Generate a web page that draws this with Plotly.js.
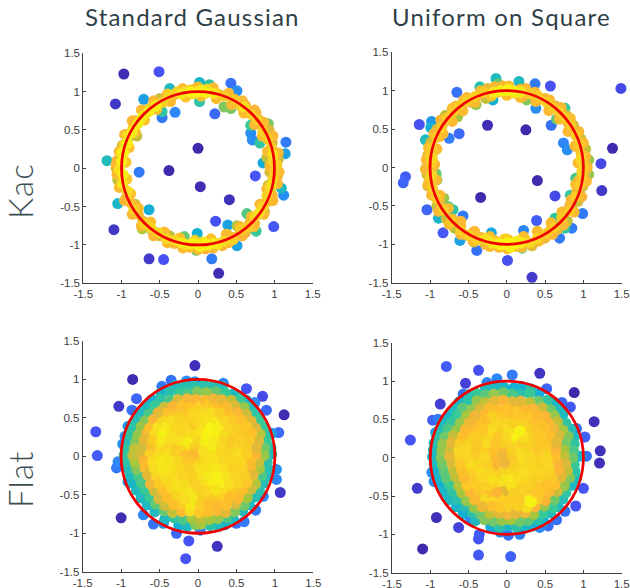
<!DOCTYPE html>
<html><head><meta charset="utf-8">
<script src="https://cdn.plot.ly/plotly-3.0.1.min.js"></script>
<style>html,body{margin:0;padding:0;background:#fff}.annotation-text{letter-spacing:1.2px}</style>
</head><body><div id="chart" style="width:630px;height:588px"></div>
<script>
const columnTitles=["Standard Gaussian","Uniform on Square"];
const rowTitles=["Kac","Flat"];
const tickValues=[-1.5,-1,-0.5,0,0.5,1,1.5];
const tickLabels=["-1.5","-1","-0.5","0","0.5","1","1.5"];

// each point: [x, y, density]
const kacGaussOutliers=[[-.97,1.23,.02],[-.51,1.26,.12],[-1.08,.84,.05],[.02,1.12,.4],[.15,1.09,.47],[.43,1.11,.2],[.51,1.01,.27],[-.37,1.04,.42],[-.71,.9,.32],[-.47,.74,.48],[-.47,.66,.22],[-.3,.73,.25],[.02,.87,.47],[.22,.71,.18],[.34,.8,.58],[.43,.78,.57],[.69,.56,.5],[.92,.58,.57],[.69,.46,.27],[.71,.37,.27],[.81,.33,.48],[1.15,.34,.22],[1.14,.19,.33],[.85,.07,.36],[-1.19,.1,.43],[-.77,-.05,.22],[0,.26,.01],[-.38,-.03,.01],[.03,-.24,.02],[.41,-.41,.03],[.75,-.1,.13],[1.09,-.26,.42],[1.12,-.35,.27],[-1.05,-.46,.4],[-.64,-.54,.37],[.64,-.59,.53],[.23,-.69,.12],[.39,-.74,.33],[.51,-.75,.62],[.76,-.82,.5],[.99,-.76,.14],[-1.1,-.8,.05],[-.01,-.85,.38],[-.18,-.89,.55],[.51,-1.01,.33],[-.02,-1.07,.55],[-.64,-1.18,.06],[-.45,-1.19,.12],[.18,-1.18,.22],[.27,-1.37,.02]];
const kacGaussRing=[[1.03,.02,.72],[1.05,.12,.68],[.98,.2,.78],[.97,.33,.7],[.92,.4,.66],[.93,.5,.7],[.85,.53,.72],[.8,.63,.78],[.76,.72,.75],[.66,.74,.72],[.62,.82,.76],[.55,.86,.66],[.46,.88,.78],[.38,.95,.76],[.28,.96,.78],[.19,1.03,.75],[.1,.98,.8],[-.02,1.05,.78],[-.1,1.02,.82],[-.22,.97,.74],[-.31,.96,.78],[-.41,.9,.72],[-.5,.91,.68],[-.58,.8,.76],[-.67,.76,.72],[-.72,.66,.78],[-.82,.62,.7],[-.8,.42,.66],[-.88,.46,.72],[-.92,.38,.68],[-.99,.3,.7],[-1.01,.18,.78],[-1.06,.1,.76],[-1.07,0,.7],[-1,-.12,.78],[-1.05,-.15,.66],[-.98,-.25,.76],[-.93,-.37,.74],[-.88,-.45,.78],[-.82,-.47,.7],[-.78,-.6,.76],[-.72,-.69,.72],[-.73,-.79,.64],[-.64,-.72,.78],[-.6,-.81,.66],[-.5,-.88,.7],[-.42,-.9,.74],[-.37,-.88,.66],[-.31,-.98,.76],[-.2,-.97,.78],[-.1,-1.03,.78],[.02,-1,.78],[.1,-1.05,.76],[.22,-.97,.8],[.32,-1.01,.76],[.38,-.86,.66],[.44,-.9,.78],[.54,-.87,.75],[.62,-.84,.72],[.68,-.71,.78],[.74,-.72,.74],[.81,-.59,.76],[.87,-.57,.66],[.9,-.44,.78],[.97,-.35,.74],[.92,-.22,.7],[.98,-.18,.76],[1.04,-.1,.75],[.9,.14,.66],[.94,-.05,.7],
[.05,1.02,.93],[-.07,.97,.9],[-.16,1,.88],[.12,1.03,.86],[-.27,1,.84],[.24,.98,.84],[-.38,.96,.85],[.34,.94,.83],[-.46,.86,.84],[.48,.9,.82],[-.54,.84,.85],[.57,.8,.82],[-.63,.78,.84],[.7,.7,.84],[-.7,.71,.82],[.77,.64,.83],[-.76,.62,.85],[.85,.48,.84],[-.85,.52,.83],[.91,.38,.83],[-.92,.42,.88],[.96,.27,.83],[-.96,.31,.9],[.98,.1,.85],[-1,.2,.94],[1.03,.05,.84],[-1,.09,.96],[1,-.05,.83],[-1.03,-.02,.9],[.98,-.14,.85],[-.98,-.08,.95],[.95,-.26,.86],[-.99,-.2,.92],[.9,-.36,.84],[-.92,-.3,.88],[.85,-.5,.85],[-.84,-.54,.84],[.75,-.63,.85],[-.7,-.72,.84],[.66,-.76,.83],[-.62,-.77,.85],[.56,-.8,.83],[-.52,-.84,.85],[.46,-.93,.84],[-.41,-.92,.86],[.34,-.95,.86],[-.3,-.94,.86],[.26,-.99,.9],[-.17,-.99,.9],[.14,-1,.94],[-.06,-.97,.95],[.03,-1.02,.95],[.07,-.96,.92]];
const kacGaussBand=[[1.06,-.05,.77],[1.05,.2,.76],[.98,.42,.77],[.86,.6,.78],[.74,.76,.76],[.58,.88,.77],[.4,.98,.78],[.2,1.05,.77],[0,1.06,.78],[-.2,1.04,.77],[-.4,.97,.78],[-.58,.88,.77],[-.74,.76,.78],[-.86,.62,.76],[-.96,.44,.77],[-1.03,.22,.78],[-1.07,.05,.76],[-1.06,-.08,.77],[-1.03,-.25,.78],[-.96,-.42,.76],[-.86,-.6,.77],[-.74,-.75,.78],[-.58,-.88,.76],[-.4,-.97,.78],[-.2,-1.04,.78],[0,-1.06,.78],[.2,-1.04,.77],[.4,-.97,.78],[.58,-.88,.76],[.73,-.76,.77],[.86,-.6,.77],[.98,-.42,.76],[1.04,-.2,.77],
[.94,.03,.78],[.91,.22,.77],[.84,.42,.78],[.74,.57,.77],[.6,.72,.78],[.44,.83,.77],[.24,.91,.78],[.04,.94,.8],[-.16,.93,.8],[-.36,.87,.78],[-.54,.77,.8],[-.7,.63,.8],[-.82,.47,.78],[-.9,.27,.8],[-.94,.08,.82],[-.93,-.14,.82],[-.88,-.33,.8],[-.78,-.52,.78],[-.62,-.7,.78],[-.44,-.83,.78],[-.24,-.91,.8],[-.04,-.94,.82],[.17,-.92,.8],[.37,-.86,.78],[.55,-.76,.78],[.7,-.63,.78],[.81,-.47,.78],[.9,-.27,.78],
[-.55,.81,.95],[-.64,.74,.95],[-.72,.68,.94],[-.79,.58,.95],[-.86,.47,.94],[-.92,.33,.95],[-.97,.2,.96],[.0,1,.97],[-.1,1,.96],[.1,.99,.95],[-.22,.97,.92],[.2,.98,.92],[0,-1,.97],[-.1,-.99,.96],[.1,-1,.97],[.2,-.98,.94],[-.22,-.97,.93],[.8,-.58,.9],[.96,-.22,.9],[.98,.18,.9],[.6,.8,.9]];

const kacSquareOutliers=[[1.49,1.03,.1],[-.14,1.16,.42],[.16,1.12,.42],[-.35,1.05,.45],[.37,1.09,.22],[.57,1.06,.12],[-.65,.98,.2],[-.11,1.09,.55],[-.18,.88,.38],[-.4,.82,.6],[.26,.88,.58],[.38,.77,.27],[.76,.77,.5],[.65,.63,.55],[.58,.55,.2],[-.64,.66,.62],[-.98,.6,.3],[-.99,.52,.37],[-1.14,.56,.12],[-.25,.55,.02],[.25,.49,.01],[-.62,.44,.18],[-.75,.38,.23],[-1.06,.36,.42],[.74,.32,.25],[.79,.23,.27],[1.38,.25,.01],[1.23,.05,.1],[1.07,.1,.6],[1.07,-.09,.6],[-1.32,-.12,.15],[-1.35,-.2,.17],[-.92,-.08,.55],[-.91,-.16,.58],[.4,-.17,.01],[.9,-.14,.52],[1.24,-.3,.05],[.63,-.37,.1],[.83,-.36,.48],[-.34,-.39,.01],[-.82,-.4,.6],[-1.04,-.55,.17],[-.7,-.55,.47],[-.76,-.51,.5],[-.57,-.63,.22],[-.89,-.66,.4],[.99,-.6,.22],[.39,-.69,.15],[.63,-.66,.48],[.76,-.79,.48],[.85,-.79,.22],[-.83,-.85,.14],[-.2,-.85,.35],[.22,-.82,.25],[.69,-.92,.22],[-.61,-.95,.33],[-.39,-1.08,.2],[.2,-1.05,.5],[.01,-1.21,.12],[.33,-1.43,.06]];
const kacSquareRing=[[1.04,.04,.68],[.98,.15,.76],[1.03,.24,.66],[.93,.27,.74],[.97,.37,.68],[.91,.45,.72],[.87,.55,.7],[.8,.58,.76],[.78,.68,.68],[.69,.7,.76],[.64,.8,.72],[.55,.82,.78],[.5,.9,.74],[.41,.88,.78],[.32,.96,.76],[.22,.93,.7],[.18,1.02,.78],[.08,.97,.8],[-.05,1.06,.76],[-.12,.98,.78],[-.25,1.03,.72],[-.27,.9,.66],[-.36,.95,.76],[-.47,.85,.72],[-.52,.91,.76],[-.6,.75,.7],[-.66,.8,.76],[-.74,.67,.72],[-.8,.68,.66],[-.84,.55,.76],[-.91,.5,.7],[-.88,.4,.76],[-.99,.33,.68],[-.96,.2,.72],[-1.03,.16,.7],[-1.03,.03,.66],[-.96,-.02,.68],[-1.04,-.09,.68],[-.98,-.18,.72],[-1.03,-.24,.72],[-.96,-.32,.76],[-.88,-.45,.74],[-.91,-.5,.66],[-.81,-.55,.76],[-.79,-.67,.68],[-.71,-.67,.78],[-.68,-.79,.66],[-.6,-.76,.76],[-.53,-.88,.7],[-.44,-.85,.76],[-.43,-.97,.68],[-.33,-.91,.78],[-.28,-1,.74],[-.16,-.95,.78],[-.1,-1.04,.76],[.02,-.94,.8],[.12,-1.03,.76],[.24,-.94,.78],[.33,-1.02,.72],[.43,-.88,.78],[.5,-.92,.74],[.58,-.8,.78],[.66,-.81,.72],[.72,-.68,.76],[.79,-.7,.66],[.86,-.55,.7],[.82,-.5,.74],[.93,-.44,.68],[.91,-.32,.74],[.99,-.25,.7],[.94,-.17,.76],[1.02,-.06,.72],
[.02,1.02,.95],[-.07,1,.94],[.1,.98,.92],[.2,1,.84],[-.18,.97,.84],[.3,.96,.83],[-.3,.98,.83],[.41,.93,.83],[-.42,.92,.84],[.52,.85,.84],[-.52,.87,.84],[.6,.78,.83],[-.62,.8,.83],[.68,.74,.83],[-.7,.72,.83],[.75,.65,.83],[-.78,.64,.83],[.83,.56,.83],[-.85,.52,.83],[.9,.42,.83],[-.92,.39,.82],[.95,.3,.83],[-.97,.26,.83],[.97,.18,.82],[-1,.15,.83],[1,.02,.83],[-.99,.05,.83],[.98,-.12,.83],[-1,-.14,.82],[.95,-.23,.83],[-.97,-.27,.83],[.9,-.38,.83],[-.92,-.4,.83],[.82,-.56,.83],[-.83,-.55,.83],[.72,-.65,.83],[-.72,-.7,.83],[.62,-.78,.84],[-.6,-.82,.83],[.52,-.86,.83],[-.5,-.88,.84],[.4,-.92,.85],[-.38,-.94,.84],[.3,-.98,.86],[-.28,-.93,.88],[.2,-.97,.88],[-.18,-.99,.9],[.1,-1,.95],[-.08,-1.01,.96],[.01,-.98,.98],[.05,-1.04,.96],[-.03,-.93,.84],[.13,-.96,.93]];
const kacSquareBand=[[1.05,.0,.77],[1.03,.14,.76],[1.0,.32,.77],[.94,.47,.77],[.83,.64,.78],[.71,.78,.76],[.56,.88,.77],[.37,.98,.78],[.25,1.03,.76],[.03,1.06,.78],[-.16,1.05,.77],[-.34,1.0,.78],[-.56,.88,.77],[-.71,.77,.78],[-.86,.62,.76],[-.95,.44,.77],[-1.02,.26,.78],[-1.05,.1,.77],[-1.06,-.02,.76],[-1.02,-.2,.78],[-.98,-.36,.76],[-.89,-.57,.77],[-.75,-.74,.78],[-.6,-.87,.76],[-.44,-.95,.78],[-.22,-1.03,.78],[.01,-1.06,.78],[.2,-1.04,.77],[.42,-.96,.78],[.6,-.87,.76],[.74,-.75,.77],[.88,-.58,.77],[.98,-.38,.76],[1.04,-.18,.77],
[.93,.06,.78],[.89,.28,.78],[.8,.47,.77],[.69,.63,.78],[.55,.74,.77],[.38,.86,.78],[.18,.91,.78],[.0,.94,.8],[-.2,.93,.8],[-.41,.85,.78],[-.57,.74,.78],[-.71,.6,.78],[-.83,.44,.77],[-.91,.24,.78],[-.94,.04,.77],[-.92,-.16,.78],[-.87,-.36,.78],[-.76,-.53,.78],[-.6,-.7,.77],[-.42,-.83,.78],[-.22,-.9,.8],[.0,-.93,.82],[.22,-.9,.8],[.4,-.83,.78],[.58,-.72,.78],[.72,-.58,.78],[.84,-.42,.77],[.9,-.22,.78],
[.0,1,.97],[.08,1.0,.96],[-.08,1,.96],[.17,.98,.93],[-.17,.98,.92],[-.02,-1.0,.98],[.08,-.99,.97],[-.1,-.99,.96],[.18,-.98,.94],[-.2,-.97,.92],[-.97,.12,.86],[.97,.1,.86],[-.98,-.1,.86],[.98,-.05,.86]];

const flatGaussOutliers=[[-.04,1.18,.03],[-.85,1,.02],[.63,.88,.13],[.84,.78,.1],[-1.03,.65,.05],[-.8,.75,.17],[1.12,.54,.02],[.89,.6,.18],[-1.33,.32,.13],[1.05,.31,.18],[-1.31,.01,.15],[-1.06,-.15,.22],[-1.04,-.07,.25],[1.02,-.17,.28],[1.02,-.3,.25],[1.07,-.47,.05],[-1,-.8,.02],[-.71,-.76,.25],[.75,-.7,.22],[.85,-.52,.25],[-.58,-.88,.2],[-.28,-1,.18],[-.12,-1.1,.13],[.25,-1.17,.04],[-.16,-1.33,.13],[.5,-.87,.2],[.6,-.85,.22],[.03,-.96,.25],[-.35,.99,.2],[-.47,.91,.22],[-.86,.6,.2],[-.91,.39,.3],[-.95,.26,.3],[-.98,.16,.28],[-.91,-.33,.3],[-.45,-.87,.3],[-.15,.98,.28],[-.04,.97,.3],[.33,.95,.25],[.74,.7,.25],[.96,.3,.3]];
const flatGaussDisc=[
[-.3,.92,.42],[-.17,.92,.45],[-.05,.91,.46],[.08,.93,.46],[.2,.92,.44],[.32,.91,.42],
[-.48,.83,.38],[-.37,.84,.45],[-.24,.83,.5],[-.13,.82,.52],[-.01,.84,.58],[.11,.83,.6],[.23,.84,.55],[.35,.83,.5],[.47,.82,.42],
[-.6,.74,.38],[-.49,.75,.47],[-.37,.73,.52],[-.26,.74,.7],[-.14,.75,.75],[-.03,.74,.76],[.09,.73,.78],[.2,.75,.74],[.31,.74,.72],[.43,.73,.66],[.55,.75,.5],[.63,.73,.4],
[-.68,.65,.42],[-.56,.66,.5],[-.44,.64,.68],[-.33,.65,.76],[-.21,.66,.8],[-.09,.64,.82],[.02,.65,.84],[.14,.66,.83],[.25,.64,.8],[.37,.65,.78],[.48,.66,.7],[.6,.64,.6],[.7,.65,.42],
[-.75,.56,.42],[-.64,.55,.52],[-.52,.57,.72],[-.41,.56,.8],[-.3,.55,.83],[-.18,.57,.82],[-.06,.56,.86],[.05,.55,.88],[.17,.57,.88],[.28,.56,.84],[.4,.55,.8],[.51,.57,.76],[.63,.55,.68],[.74,.56,.47],
[-.8,.47,.44],[-.69,.46,.58],[-.58,.48,.76],[-.46,.47,.86],[-.35,.46,.88],[-.23,.48,.85],[-.12,.47,.84],[0,.46,.87],[.11,.48,.9],[.23,.47,.92],[.34,.46,.86],[.46,.48,.82],[.57,.47,.8],[.69,.46,.72],[.8,.48,.5],
[-.85,.38,.46],[-.74,.39,.6],[-.63,.37,.8],[-.52,.38,.9],[-.4,.39,.93],[-.29,.37,.87],[-.17,.38,.86],[-.06,.39,.83],[.06,.37,.9],[.17,.38,.98],[.29,.39,.95],[.4,.37,.86],[.52,.38,.84],[.63,.39,.82],[.75,.37,.7],[.86,.38,.5],
[-.9,.29,.48],[-.78,.28,.6],[-.67,.3,.74],[-.56,.29,.88],[-.45,.28,.96],[-.33,.3,.9],[-.22,.29,.85],[-.1,.28,.88],[.01,.3,.9],[.12,.29,.97],[.24,.28,.96],[.35,.3,.88],[.47,.29,.84],[.58,.28,.82],[.7,.3,.8],[.81,.29,.64],[.92,.28,.46],
[-.92,.2,.44],[-.81,.19,.58],[-.7,.21,.72],[-.59,.2,.83],[-.47,.19,.93],[-.36,.21,.88],[-.24,.2,.9],[-.13,.19,.94],[-.02,.21,.86],[.1,.2,.95],[.21,.19,.92],[.33,.21,.86],[.44,.2,.83],[.56,.19,.84],[.67,.21,.82],[.79,.2,.7],[.89,.19,.5],
[-.94,.11,.46],[-.83,.1,.66],[-.72,.12,.68],[-.61,.11,.78],[-.5,.1,.86],[-.38,.12,.84],[-.27,.11,.82],[-.15,.1,.87],[-.04,.12,.84],[.08,.11,.9],[.19,.1,.94],[.3,.12,.88],[.42,.11,.84],[.53,.1,.86],[.65,.12,.84],[.76,.11,.72],[.87,.1,.56],[.95,.11,.44],
[-.96,.02,.48],[-.85,.01,.66],[-.74,.03,.7],[-.63,.02,.84],[-.52,.01,.88],[-.4,.03,.9],[-.29,.02,.84],[-.17,.01,.8],[-.06,.03,.78],[.06,.02,.88],[.17,.01,.9],[.29,.03,.86],[.4,.02,.85],[.52,.01,.88],[.63,.03,.84],[.75,.02,.76],[.86,.01,.6],[.96,.03,.44],
[-.93,-.07,.46],[-.82,-.08,.62],[-.7,-.06,.76],[-.59,-.07,.88],[-.47,-.08,.93],[-.36,-.06,.9],[-.24,-.07,.86],[-.13,-.08,.82],[-.01,-.06,.84],[.1,-.07,.88],[.22,-.08,.9],[.33,-.06,.86],[.45,-.07,.86],[.56,-.08,.86],[.68,-.06,.8],[.79,-.07,.68],[.9,-.08,.46],
[-.91,-.16,.44],[-.8,-.17,.58],[-.69,-.15,.78],[-.57,-.16,.88],[-.46,-.17,.92],[-.34,-.15,.91],[-.23,-.16,.87],[-.11,-.17,.84],[0,-.15,.88],[.12,-.16,.9],[.23,-.17,.92],[.35,-.15,.88],[.46,-.16,.84],[.58,-.17,.85],[.69,-.15,.78],[.8,-.16,.62],[.91,-.17,.44],
[-.88,-.25,.42],[-.77,-.26,.52],[-.66,-.24,.72],[-.54,-.25,.86],[-.43,-.26,.9],[-.31,-.24,.88],[-.2,-.25,.85],[-.08,-.26,.84],[.03,-.24,.9],[.15,-.25,.93],[.26,-.26,.96],[.38,-.24,.9],[.49,-.25,.86],[.61,-.26,.84],[.72,-.24,.72],[.83,-.25,.52],[.92,-.26,.42],
[-.85,-.35,.4],[-.74,-.34,.52],[-.62,-.36,.74],[-.51,-.35,.83],[-.39,-.34,.86],[-.28,-.36,.9],[-.16,-.35,.88],[-.05,-.34,.84],[.07,-.36,.88],[.18,-.35,.94],[.3,-.34,.95],[.41,-.36,.88],[.53,-.35,.85],[.64,-.34,.82],[.75,-.36,.64],[.85,-.35,.44],
[-.8,-.44,.42],[-.69,-.43,.5],[-.57,-.45,.68],[-.46,-.44,.8],[-.34,-.43,.86],[-.23,-.45,.9],[-.11,-.44,.92],[0,-.43,.85],[.12,-.45,.86],[.23,-.44,.9],[.35,-.43,.88],[.46,-.45,.82],[.58,-.44,.8],[.69,-.43,.68],[.8,-.45,.46],
[-.74,-.54,.42],[-.63,-.53,.5],[-.51,-.55,.7],[-.4,-.54,.8],[-.28,-.53,.85],[-.17,-.55,.88],[-.05,-.54,.92],[.06,-.53,.84],[.18,-.55,.82],[.29,-.54,.84],[.41,-.53,.8],[.52,-.55,.78],[.64,-.54,.62],[.74,-.53,.44],
[-.66,-.63,.42],[-.55,-.62,.55],[-.43,-.64,.68],[-.32,-.63,.8],[-.2,-.62,.84],[-.09,-.64,.92],[.03,-.63,.84],[.14,-.62,.8],[.26,-.64,.78],[.37,-.63,.8],[.49,-.62,.7],[.6,-.64,.56],[.67,-.63,.42],
[-.56,-.72,.42],[-.44,-.71,.55],[-.33,-.73,.66],[-.21,-.72,.78],[-.1,-.71,.88],[.02,-.73,.82],[.13,-.72,.8],[.25,-.71,.78],[.36,-.73,.72],[.48,-.72,.58],[.58,-.71,.42],
[-.43,-.81,.42],[-.31,-.8,.48],[-.2,-.82,.52],[-.08,-.81,.62],[.03,-.8,.66],[.15,-.82,.62],[.26,-.81,.6],[.38,-.8,.52],[.46,-.82,.42],
[-.25,-.9,.38],[-.14,-.91,.42],[-.03,-.89,.58],[.04,-.88,.62],[.16,-.9,.46],[.27,-.91,.42],[.35,-.89,.38]];

const flatSquareOutliers=[[-.79,1.19,.15],[-.37,1.14,.12],[.43,1.1,.04],[.07,1.08,.22],[-.13,1.03,.25],[-.26,.98,.23],[-.54,.97,.08],[.52,.9,.17],[-.57,.83,.2],[.88,.85,.01],[.72,.72,.18],[-.87,.7,.07],[.83,.66,.14],[-.97,.49,.16],[-.9,.5,.22],[1.14,.47,.03],[.91,.38,.2],[-.93,.33,.3],[1.02,.27,.16],[-1.26,.23,.13],[1.22,.09,.03],[1.04,.02,.2],[1.21,-.07,.03],[-.98,-.19,.28],[-.95,-.31,.28],[1,-.4,.13],[-1.17,-.4,.06],[.9,-.63,.13],[.76,-.7,.2],[-.92,-.78,.03],[-.63,-.91,.08],[.65,-.81,.2],[.54,-.89,.2],[.43,-.91,.26],[.17,-1,.24],[.02,-1.01,.2],[-.09,-.97,.27],[-.36,-1,.15],[-.37,-1.06,.13],[-1.1,-1.19,.01],[-.37,-1.27,.14],[.05,-1.29,.16],[-.48,-.81,.25],[-.2,-.92,.35]];
const flatSquareDisc=[
[-.28,.91,.42],[-.15,.93,.42],[-.04,.92,.4],[.09,.91,.38],[.2,.93,.38],[.31,.9,.46],[.42,.84,.36],
[-.5,.82,.42],[-.4,.84,.5],[-.28,.82,.54],[-.17,.83,.6],[-.05,.85,.56],[.07,.83,.52],[.18,.82,.46],[.3,.84,.5],
[-.62,.73,.4],[-.5,.75,.46],[-.39,.74,.6],[-.28,.72,.66],[-.16,.74,.72],[-.05,.75,.76],[.07,.73,.72],[.18,.74,.72],[.3,.72,.66],[.41,.74,.56],[.53,.75,.48],[.62,.72,.4],
[-.69,.64,.42],[-.58,.65,.54],[-.46,.63,.6],[-.35,.64,.7],[-.23,.65,.78],[-.12,.63,.8],[0,.64,.8],[.11,.65,.82],[.23,.63,.78],[.34,.64,.76],[.46,.65,.68],[.57,.63,.56],[.69,.64,.42],
[-.76,.55,.4],[-.65,.56,.5],[-.53,.54,.62],[-.42,.55,.74],[-.3,.56,.78],[-.19,.54,.84],[-.07,.55,.82],[.04,.56,.8],[.16,.54,.82],[.27,.55,.82],[.39,.56,.78],[.5,.54,.76],[.62,.55,.6],[.73,.56,.42],
[-.84,.46,.42],[-.72,.47,.48],[-.61,.45,.6],[-.49,.46,.74],[-.38,.47,.8],[-.26,.45,.8],[-.15,.46,.86],[-.03,.47,.86],[.08,.45,.84],[.2,.46,.84],[.31,.47,.8],[.43,.45,.8],[.54,.46,.76],[.66,.47,.66],[.77,.45,.48],
[-.88,.37,.44],[-.77,.38,.52],[-.66,.36,.6],[-.54,.37,.78],[-.43,.38,.8],[-.31,.36,.82],[-.2,.37,.88],[-.08,.38,.84],[.03,.36,.88],[.13,.33,.98],[.18,.35,.96],[.27,.38,.84],[.38,.36,.82],[.5,.37,.8],[.61,.38,.74],[.73,.36,.62],[.84,.37,.44],
[-.92,.28,.46],[-.81,.27,.56],[-.7,.29,.66],[-.58,.28,.8],[-.47,.27,.84],[-.35,.29,.84],[-.24,.28,.86],[-.12,.27,.82],[-.01,.29,.86],[.11,.28,.96],[.22,.27,.88],[.34,.29,.84],[.45,.28,.82],[.57,.27,.8],[.68,.29,.7],[.8,.28,.58],[.88,.27,.42],
[-.95,.19,.44],[-.84,.18,.6],[-.72,.2,.72],[-.61,.19,.84],[-.5,.18,.86],[-.38,.2,.82],[-.27,.19,.88],[-.15,.18,.82],[-.04,.2,.84],[.08,.19,.86],[.19,.18,.84],[.31,.2,.84],[.42,.19,.82],[.54,.18,.82],[.65,.2,.72],[.77,.19,.56],[.88,.18,.48],
[-.96,.1,.42],[-.85,.09,.6],[-.74,.11,.68],[-.63,.1,.86],[-.51,.09,.86],[-.4,.11,.82],[-.28,.1,.84],[-.17,.09,.8],[-.05,.11,.76],[.06,.1,.84],[.18,.09,.88],[.29,.11,.84],[.41,.1,.82],[.52,.09,.84],[.64,.11,.76],[.75,.1,.62],[.87,.09,.52],
[-.97,.01,.4],[-.86,0,.58],[-.75,.02,.72],[-.63,.01,.84],[-.52,0,.86],[-.4,.02,.84],[-.29,.01,.86],[-.17,0,.78],[-.06,.02,.74],[.06,.01,.82],[.17,0,.88],[.29,.02,.86],[.4,.01,.84],[.52,0,.86],[.63,.02,.8],[.75,.01,.66],[.86,0,.56],[.96,.02,.4],
[-.95,-.08,.42],[-.84,-.09,.56],[-.72,-.07,.7],[-.61,-.08,.82],[-.49,-.09,.88],[-.38,-.07,.86],[-.26,-.08,.84],[-.15,-.09,.76],[-.03,-.07,.74],[.08,-.08,.84],[.2,-.09,.86],[.31,-.07,.86],[.43,-.08,.84],[.54,-.09,.86],[.66,-.07,.76],[.77,-.08,.7],[.88,-.09,.5],
[-.93,-.17,.38],[-.82,-.18,.54],[-.7,-.16,.66],[-.59,-.17,.8],[-.47,-.18,.84],[-.36,-.16,.88],[-.24,-.17,.86],[-.13,-.18,.84],[-.01,-.16,.86],[.1,-.17,.86],[.22,-.18,.88],[.33,-.16,.86],[.45,-.17,.86],[.56,-.18,.84],[.68,-.16,.76],[.79,-.17,.66],[.89,-.18,.46],
[-.9,-.26,.4],[-.79,-.27,.54],[-.67,-.25,.66],[-.56,-.26,.78],[-.44,-.27,.82],[-.33,-.25,.86],[-.21,-.26,.9],[-.1,-.27,.88],[.02,-.25,.92],[.13,-.26,.88],[.25,-.27,.86],[.36,-.25,.84],[.48,-.26,.84],[.59,-.27,.82],[.71,-.25,.72],[.82,-.26,.58],[.91,-.27,.42],
[-.86,-.36,.38],[-.75,-.35,.5],[-.63,-.37,.64],[-.52,-.36,.82],[-.4,-.35,.84],[-.29,-.37,.84],[-.17,-.36,.86],[-.06,-.35,.88],[.06,-.37,.9],[.17,-.36,.84],[.29,-.35,.84],[.4,-.37,.82],[.52,-.36,.8],[.63,-.35,.8],[.75,-.37,.6],[.85,-.36,.42],
[-.82,-.45,.4],[-.71,-.44,.48],[-.59,-.46,.62],[-.48,-.45,.76],[-.36,-.44,.82],[-.25,-.46,.8],[-.13,-.45,.76],[-.04,-.44,.72],[.09,-.46,.84],[.2,-.45,.84],[.32,-.44,.82],[.43,-.46,.82],[.55,-.45,.78],[.66,-.44,.68],[.77,-.46,.48],
[-.76,-.55,.42],[-.65,-.54,.46],[-.53,-.56,.6],[-.42,-.55,.78],[-.3,-.54,.86],[-.19,-.56,.86],[-.07,-.55,.84],[.04,-.54,.82],[.16,-.56,.82],[.27,-.55,.94],[.32,-.58,.96],[.39,-.54,.84],[.5,-.56,.76],[.62,-.55,.56],[.73,-.54,.44],
[-.66,-.64,.4],[-.55,-.63,.44],[-.43,-.65,.6],[-.32,-.64,.74],[-.2,-.63,.8],[-.09,-.65,.82],[.03,-.64,.84],[.14,-.63,.84],[.26,-.65,.88],[.37,-.64,.76],[.49,-.63,.6],[.6,-.65,.5],[.67,-.64,.42],
[-.57,-.73,.38],[-.45,-.72,.46],[-.34,-.74,.56],[-.22,-.73,.66],[-.11,-.72,.72],[.01,-.74,.74],[.12,-.73,.72],[.24,-.72,.74],[.35,-.74,.62],[.47,-.73,.5],[.57,-.72,.42],
[-.41,-.82,.42],[-.29,-.81,.58],[-.18,-.83,.56],[-.06,-.82,.6],[.05,-.81,.62],[.17,-.83,.56],[.28,-.82,.54],[.4,-.81,.46],[.48,-.83,.38],
[-.21,-.9,.36],[-.1,-.91,.46],[.02,-.89,.4],[.13,-.91,.46],[.25,-.9,.4],[.34,-.89,.36]];

const panels=[
 {pts:kacGaussOutliers.concat(kacGaussRing,kacGaussBand),mix:false,xa:'x',ya:'y',dx:[83.3,312.7],dy:[53.3,283.3]},
 {pts:kacSquareOutliers.concat(kacSquareRing,kacSquareBand),mix:false,xa:'x2',ya:'y2',dx:[391.7,621.7],dy:[52.3,282.7]},
 {pts:flatGaussOutliers.concat(flatGaussDisc),mix:true,xa:'x3',ya:'y3',dx:[82.7,313.3],dy:[341,571.7]},
 {pts:flatSquareOutliers.concat(flatSquareDisc),mix:true,xa:'x4',ya:'y4',dx:[392,621.7],dy:[342.7,572.7]}];

const W=630,H=588;
const parula=[[0,'#3e26a8'],[.125,'#4752f4'],[.25,'#2d87f7'],[.375,'#12b1d6'],[.5,'#37c897'],[.625,'#abc739'],[.7,'#d8bb3a'],[.76,'#fbb634'],[.8,'#fdc02a'],[.85,'#f9d322'],[.92,'#f6e71a'],[1,'#f7f90f']];
const data=[],layout={width:W,height:H,margin:{l:0,r:0,t:0,b:0},paper_bgcolor:'#fff',plot_bgcolor:'#fff',showlegend:false,shapes:[],annotations:[]};
function axis(dom,anchor){return {domain:dom,range:[-1.5,1.5],anchor:anchor,tickmode:'array',tickvals:tickValues,ticktext:tickLabels,ticks:'inside',ticklen:3,tickwidth:1,tickcolor:'#404040',showline:true,linecolor:'#404040',linewidth:1,showgrid:false,zeroline:false,tickfont:{family:'Liberation Sans, Arial, sans-serif',size:11.5,color:'#404040'},fixedrange:true};}
function drawOrder(p){
 const s=p.pts.slice().sort((a,b)=>a[2]-b[2]);
 if(!p.mix) return s;
 const low=s.filter(d=>d[2]<.72), high=p.pts.filter(d=>d[2]>=.72), out=[];
 const stride=high.length%97?97:89;
 for(let i=0;i<high.length;i++) out.push(high[(i*stride)%high.length]);
 return low.concat(out);
}
panels.forEach(p=>{
 const s=drawOrder(p);
 data.push({type:'scatter',mode:'markers',xaxis:p.xa,yaxis:p.ya,x:s.map(d=>d[0]),y:s.map(d=>d[1]),cliponaxis:false,hoverinfo:'skip',
  marker:{size:11,color:s.map(d=>d[2]),cmin:0,cmax:1,colorscale:parula,showscale:false,line:{width:0}}});
 const xn='xaxis'+p.xa.slice(1),yn='yaxis'+p.ya.slice(1);
 layout[xn]=axis([p.dx[0]/W,p.dx[1]/W],p.ya);
 layout[yn]=axis([1-p.dy[1]/H,1-p.dy[0]/H],p.xa);
 layout.shapes.push({type:'circle',xref:p.xa,yref:p.ya,x0:-1,x1:1,y0:-1,y1:1,line:{color:'#f00000',width:2.8},layer:'above'});
});
const titleFont={family:'Lato, sans-serif',size:24,weight:400,color:'#2e4045'};
layout.annotations.push({xref:'paper',yref:'paper',x:192/W,y:1-17/H,text:columnTitles[0],showarrow:false,font:titleFont,xanchor:'center',yanchor:'middle'});
layout.annotations.push({xref:'paper',yref:'paper',x:501.5/W,y:1-17/H,text:columnTitles[1],showarrow:false,font:titleFont,xanchor:'center',yanchor:'middle'});
const rowFont={family:'Lato, sans-serif',size:33,weight:300,color:'#3c4e52'};
layout.annotations.push({xref:'paper',yref:'paper',x:20/W,y:1-191/H,text:rowTitles[0],textangle:-90,showarrow:false,font:rowFont,xanchor:'center',yanchor:'middle'});
layout.annotations.push({xref:'paper',yref:'paper',x:20/W,y:1-479/H,text:rowTitles[1],textangle:-90,showarrow:false,font:rowFont,xanchor:'center',yanchor:'middle'});
Plotly.newPlot('chart',data,layout,{displayModeBar:false,staticPlot:true});
</script></body></html>
